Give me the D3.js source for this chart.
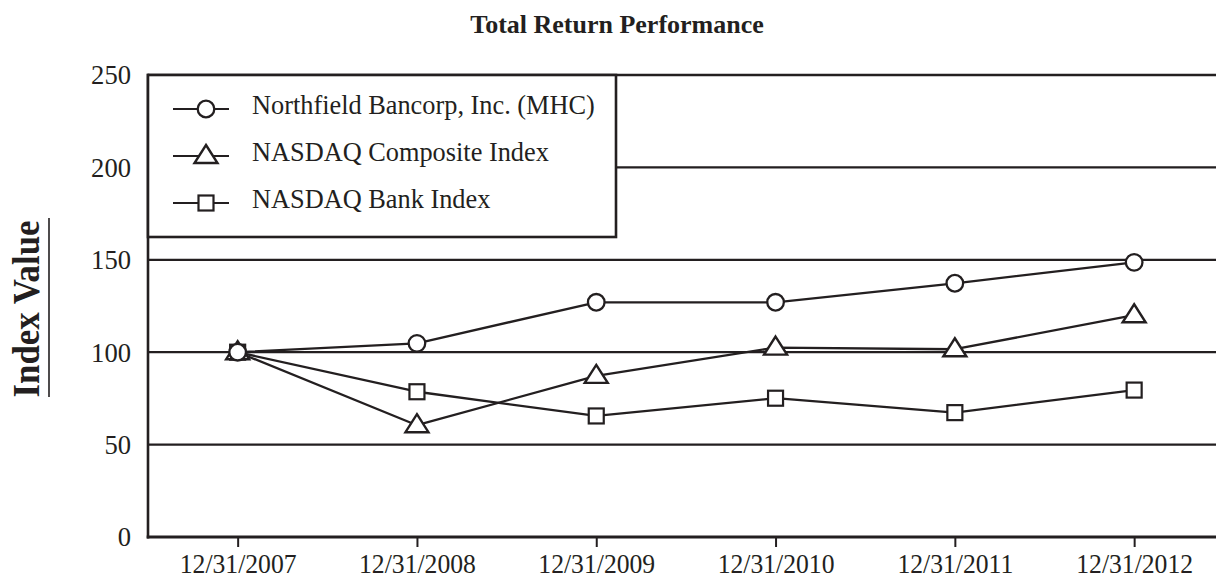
<!DOCTYPE html>
<html>
<head>
<meta charset="utf-8">
<script src="https://cdn.jsdelivr.net/npm/d3@7"></script>
<style>
  html, body { margin: 0; padding: 0; background: #fff; }
  svg { display: block; }
  text { font-family: "Liberation Serif", "Times New Roman", serif; fill: #231f20; }
</style>
</head>
<body>
<svg id="chart" width="1216" height="579"></svg>
<script>
const categories = ["12/31/2007", "12/31/2008", "12/31/2009", "12/31/2010", "12/31/2011", "12/31/2012"];
const northfield = [100, 104.8, 127.0, 127.0, 137.3, 148.6];
const nasdaqComposite = [100, 60.5, 87.2, 102.5, 101.6, 120.0];
const nasdaqBank = [100, 78.6, 65.5, 75.1, 67.3, 79.5];
const yTicks = [0, 50, 100, 150, 200, 250];
const seriesNames = ["Northfield Bancorp, Inc. (MHC)", "NASDAQ Composite Index", "NASDAQ Bank Index"];
const seriesShapes = ["circle", "triangle", "square"];

const INK = "#231f20";
const svg = d3.select("#chart");
const W = 1216, H = 579;
const plotLeft = 148, plotTop = 75, plotBottom = 537;

const x = d3.scalePoint().domain(categories).range([plotLeft, plotLeft + 6 * 179.3]).padding(0.5);
const y = d3.scaleLinear().domain([0, 250]).range([plotBottom, plotTop]);

// condense text horizontally (reference glyphs are slightly narrow)
function condense(sel, k) {
  sel.each(function() {
    const len = this.getComputedTextLength();
    d3.select(this).attr("textLength", len * k).attr("lengthAdjust", "spacingAndGlyphs");
  });
}

// Title
svg.append("text")
  .attr("x", 617).attr("y", 33)
  .attr("text-anchor", "middle")
  .style("font-size", "26px").style("font-weight", "bold")
  .text("Total Return Performance");

// Y axis label (underlined)
svg.append("text")
  .attr("transform", "translate(39,309) rotate(-90)")
  .attr("text-anchor", "middle")
  .style("font-size", "37px").style("font-weight", "bold")
  .text("Index Value")
  .call(condense, 0.94);
svg.append("line")
  .attr("x1", 49).attr("x2", 49).attr("y1", 218).attr("y2", 397)
  .attr("stroke", INK).attr("stroke-width", 1.6);

// gridlines
svg.append("g").selectAll("line")
  .data(yTicks.filter(d => d > 0))
  .join("line")
  .attr("x1", plotLeft).attr("x2", W)
  .attr("y1", d => y(d)).attr("y2", d => y(d))
  .attr("stroke", INK).attr("stroke-width", d => d === 250 ? 2.6 : 2.2);

// Y axis
const yAxis = d3.axisLeft(y).tickValues(yTicks).tickSize(0).tickPadding(17);
const gy = svg.append("g").attr("transform", `translate(${plotLeft},0)`).call(yAxis);
gy.select(".domain").remove();
gy.selectAll("text").style("font-size", "28px").style("font-family", "Liberation Serif").attr("fill", INK)
  .call(condense, 0.95);
svg.append("line").attr("x1", plotLeft).attr("x2", plotLeft).attr("y1", plotTop - 1.2).attr("y2", plotBottom + 1.5)
  .attr("stroke", INK).attr("stroke-width", 2.6);

// X axis
const xAxis = d3.axisBottom(x).tickSize(10).tickSizeOuter(0).tickPadding(7);
const gx = svg.append("g").attr("transform", `translate(0,${plotBottom})`).call(xAxis);
gx.select(".domain").remove();
gx.selectAll(".tick line").attr("stroke", INK).attr("stroke-width", 2);
gx.selectAll("text").style("font-size", "27px").style("font-family", "Liberation Serif").attr("fill", INK)
  .call(condense, 0.95);
svg.append("line").attr("x1", plotLeft - 1.3).attr("x2", W).attr("y1", plotBottom).attr("y2", plotBottom)
  .attr("stroke", INK).attr("stroke-width", 3);

// Legend box
svg.append("rect").attr("x", plotLeft).attr("y", plotTop).attr("width", 468).attr("height", 162)
  .attr("fill", "#fff").attr("stroke", INK).attr("stroke-width", 2.6);

// marker drawing
function drawMarker(g, shape, cx, cy) {
  if (shape === "circle") {
    g.append("circle").attr("cx", cx).attr("cy", cy).attr("r", 8.3)
      .attr("fill", "#fff").attr("stroke", INK).attr("stroke-width", 2.3);
  } else if (shape === "square") {
    g.append("rect").attr("x", cx - 7.5).attr("y", cy - 7.5).attr("width", 15).attr("height", 15)
      .attr("fill", "#fff").attr("stroke", INK).attr("stroke-width", 2.2);
  } else {
    const p = d3.path();
    p.moveTo(cx, cy - 11); p.lineTo(cx + 11.5, cy + 7); p.lineTo(cx - 11.5, cy + 7); p.closePath();
    g.append("path").attr("d", p.toString())
      .attr("fill", "#fff").attr("stroke", INK).attr("stroke-width", 2.4).attr("stroke-linejoin", "miter");
  }
}

// Legend items
const legendBaselines = [114, 161, 208];
seriesNames.forEach((name, i) => {
  const g = svg.append("g");
  const ly = legendBaselines[i] - 5;
  g.append("line").attr("x1", 173).attr("x2", 229).attr("y1", ly).attr("y2", ly)
    .attr("stroke", INK).attr("stroke-width", 2.2);
  drawMarker(g, seriesShapes[i], 206, ly);
  g.append("text").attr("x", 252).attr("y", legendBaselines[i])
    .style("font-size", "28px").text(name)
    .call(condense, 0.94);
});

// Series
const allSeries = [
  { values: nasdaqBank, shape: "square" },
  { values: nasdaqComposite, shape: "triangle" },
  { values: northfield, shape: "circle" }
];
const line = d3.line().x((d, i) => x(categories[i])).y(d => y(d));
const linesG = svg.append("g");
allSeries.forEach(s => {
  linesG.append("path").attr("d", line(s.values)).attr("fill", "none")
    .attr("stroke", INK).attr("stroke-width", 2.3).attr("stroke-linejoin", "round");
});
const markG = svg.append("g");
allSeries.forEach(s => {
  s.values.forEach((v, i) => drawMarker(markG, s.shape, x(categories[i]), y(v)));
});
</script>
</body>
</html>
